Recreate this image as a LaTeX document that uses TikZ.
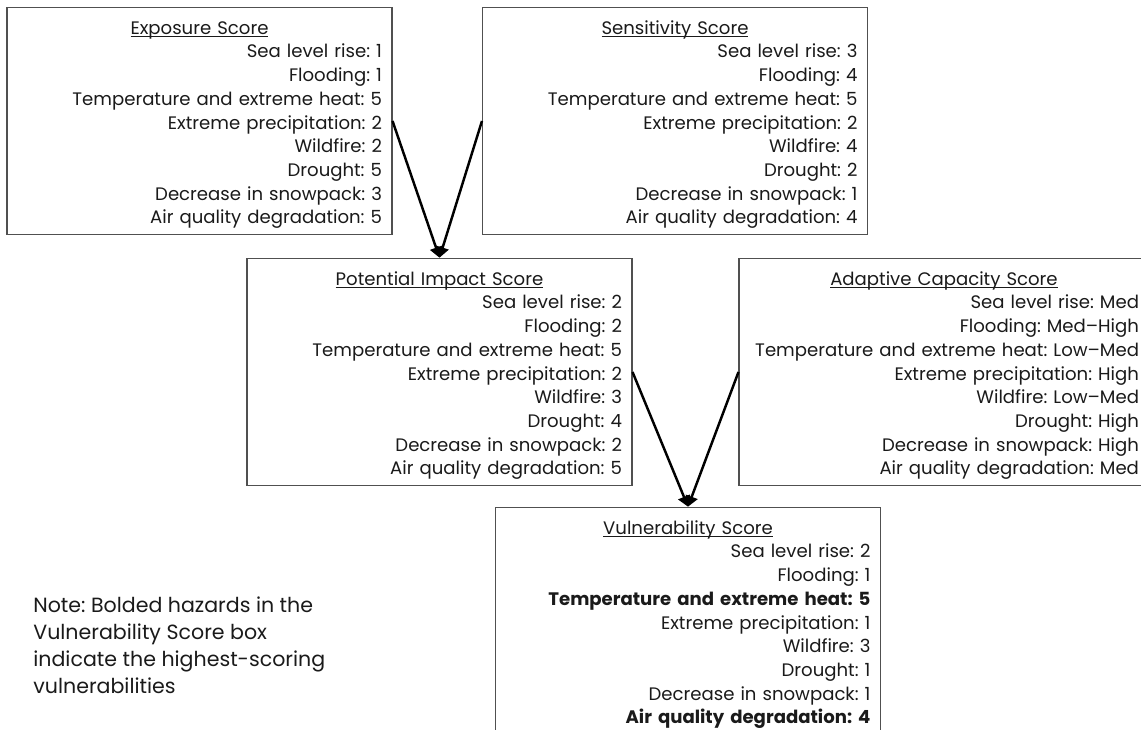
\documentclass[tikz,border=0pt]{standalone}
\usepackage{fontspec}
\setmainfont{Poppins}
\usepackage{tikz}
\usetikzlibrary{arrows.meta}

\definecolor{boxline}{HTML}{505050}
\definecolor{txt}{HTML}{1A1A1A}
\newcommand{\boxtitle}[1]{\makebox[\hsize][c]{$\underline{\smash{\mbox{#1}}}$\rule{0pt}{12pt}}}

\begin{document}
\frenchspacing
\begin{tikzpicture}[
    scorebox/.style={draw=boxline, line width=0.6pt, text=txt, align=right,
      minimum width=7.7cm, text width=7.3cm, minimum height=4.5cm, inner xsep=0.2cm,
      font=\fontsize{10.3}{13.5}\selectfont},
    flow/.style={line width=1.4pt, -{Triangle[width=7pt,length=6pt]}}]
    \useasboundingbox (0,0) rectangle (22.82,14.6);
    % top row
    \node[scorebox] (expo) at (3.99,12.18) {\boxtitle{Exposure Score}\\
      Sea level rise: 1\\ Flooding: 1\\ Temperature and extreme heat: 5\\
      Extreme precipitation: 2\\ Wildfire: 2\\ Drought: 5\\
      Decrease in snowpack: 3\\ Air quality degradation: 5};
    \node[scorebox] (sens) at (13.5,12.18) {\boxtitle{Sensitivity Score}\\
      Sea level rise: 3\\ Flooding: 4\\ Temperature and extreme heat: 5\\
      Extreme precipitation: 2\\ Wildfire: 4\\ Drought: 2\\
      Decrease in snowpack: 1\\ Air quality degradation: 4};
    % middle row
    \node[scorebox] (pot) at (8.79,7.16) {\boxtitle{Potential Impact Score}\\
      Sea level rise: 2\\ Flooding: 2\\ Temperature and extreme heat: 5\\
      Extreme precipitation: 2\\ Wildfire: 3\\ Drought: 4\\
      Decrease in snowpack: 2\\ Air quality degradation: 5};
    \node[scorebox, minimum width=8.2cm, text width=7.8cm] (adapt) at (18.88,7.16) {\boxtitle{Adaptive Capacity Score}\\
      Sea level rise: Med\\ Flooding: Med--High\\ Temperature and extreme heat: Low--Med\\
      Extreme precipitation: High\\ Wildfire: Low--Med\\ Drought: High\\
      Decrease in snowpack: High\\ Air quality degradation: Med};
    % bottom
    \node[scorebox] (vuln) at (13.76,2.18) {\boxtitle{Vulnerability Score}\\
      Sea level rise: 2\\ Flooding: 1\\ \textbf{Temperature and extreme heat: 5}\\
      Extreme precipitation: 1\\ Wildfire: 3\\ Drought: 1\\
      Decrease in snowpack: 1\\ \textbf{Air quality degradation: 4}};
    \node[anchor=west, align=left, text=txt, inner sep=0pt,
      font=\fontsize{11.7}{15.4}\selectfont] (note) at (0.66,1.70)
      {Note: Bolded hazards in the\\ Vulnerability Score box\\
       indicate the highest-scoring\\ vulnerabilities};
    \draw[flow] (expo.east) -- (pot.north);
    \draw[flow] (sens.west) -- (pot.north);
    \draw[flow] (pot.east) -- (vuln.north);
    \draw[flow] (adapt.west) -- (vuln.north);
\end{tikzpicture}
\end{document}
